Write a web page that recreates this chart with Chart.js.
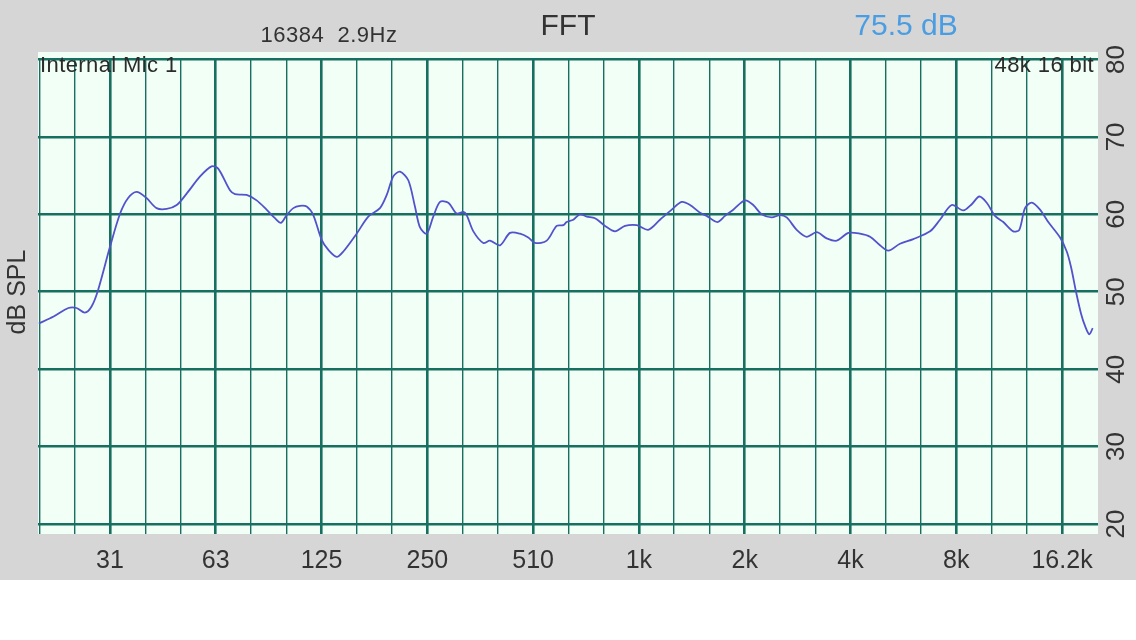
<!DOCTYPE html>
<html>
<head>
<meta charset="utf-8">
<script src="https://cdn.jsdelivr.net/npm/chart.js@4/dist/chart.umd.min.js"></script>
<style>
  html, body { margin: 0; padding: 0; background: #fff; }
  canvas { display: block; }
</style>
</head>
<body>
<canvas id="fftChart" width="1136" height="640"></canvas>
<script>
// frequency (Hz) and level (dB SPL)
var freqHz = [19.6, 21.6, 23.8, 25.1, 26.5, 27.7, 28.9, 31.25, 33.4, 35.2, 37.2, 39.7, 42.4, 45.3, 48.4, 51.7,
    56.4, 60.8, 63.5, 68.6, 70.9, 76.5, 81.7, 87.2, 92.1, 95.8, 99.5, 103.9, 108.5, 113.4, 118.4, 125.1,
    130.7, 138.1, 144.2, 157.3, 169.8, 183.3, 191.6, 200, 209, 220.7, 230.5, 238.3, 249, 259.9, 271.7,
    286.8, 303.1, 316.4, 323.5, 338, 360.8, 376.9, 402.5, 429.7, 458.8, 484.4, 506.3, 546.6, 583.4,
    609.4, 622.8, 650.6, 679.7, 710.6, 750, 801, 855, 913, 986, 1063, 1148, 1240, 1324, 1398, 1493,
    1559, 1671, 1758, 1856, 2004, 2115, 2236, 2387, 2521, 2633, 2812, 3003, 3206, 3422, 3656, 3944,
    4257, 4547, 4853, 5126, 5532, 6037, 6737, 7191, 7765, 8379, 8853, 9306, 9768, 10312, 10890, 11625,
    12091, 12553, 13116, 13850, 14619, 15794, 16500, 16969, 17534, 18113, 18634, 19131, 19560];
var splDb = [45.9, 46.8, 47.9, 47.9, 47.3, 48.1, 50.2, 55.8, 60.1, 62.1, 62.9, 62.1, 60.8, 60.7, 61.2, 62.7,
    64.9, 66.2, 65.9, 63.1, 62.6, 62.5, 61.8, 60.6, 59.5, 58.9, 59.9, 60.8, 61.1, 61.0, 59.9, 56.7,
    55.4, 54.5, 55.2, 57.5, 59.7, 60.8, 62.5, 64.9, 65.5, 64.4, 61.0, 58.3, 57.5, 59.7, 61.6,
    61.5, 60.1, 60.3, 59.9, 57.8, 56.3, 56.6, 56.0, 57.6, 57.5, 57.0, 56.3, 56.6, 58.5,
    58.6, 59.0, 59.3, 60.0, 59.7, 59.5, 58.5, 57.8, 58.5, 58.6, 58.0, 59.3, 60.6, 61.6, 61.2, 60.2,
    59.8, 59.0, 59.8, 60.6, 61.8, 61.2, 60.0, 59.6, 59.9, 59.6, 58.0, 57.1, 57.7, 56.9, 56.6, 57.6,
    57.5, 57.1, 56.0, 55.3, 56.2, 56.8, 57.8, 59.3, 61.2, 60.5, 61.3, 62.3, 61.5, 59.8, 59.0, 57.8,
    58.0, 60.8, 61.5, 60.6, 59.0, 57.0, 55.2, 53.2, 50.0, 47.2, 45.5, 44.5, 45.3];

// octave gridlines and their labels
var octaveHz = [31.25, 62.5, 125, 250, 500, 1000, 2000, 4000, 8000, 16000];
var octaveLabels = ['31', '63', '125', '250', '510', '1k', '2k', '4k', '8k', '16.2k'];
var dbTicks = [20, 30, 40, 50, 60, 70, 80];

var FONT = '"Liberation Sans", Arial, Helvetica, sans-serif';
var GRID = '#17705f';

// third-octave grid positions
var thirdHz = [];
for (var i = -2; i <= 27; i++) {
    thirdHz.push(31.25 * Math.pow(2, i / 3));
}

function octaveIndex(v) {
    for (var i = 0; i < octaveHz.length; i++) {
        if (Math.abs(v / octaveHz[i] - 1) < 0.001) return i;
    }
    return -1;
}

var points = [];
for (var i = 0; i < freqHz.length; i++) {
    points.push({x: freqHz[i], y: splDb[i]});
}

var backdrop = {
    id: 'backdrop',
    beforeDraw: function (chart) {
        var c = chart.ctx, a = chart.chartArea;
        c.save();
        c.fillStyle = '#ffffff';
        c.fillRect(0, 0, chart.width, chart.height);
        c.fillStyle = '#d6d6d6';
        c.fillRect(0, 0, chart.width, 580);
        c.fillStyle = '#f2fff7';
        c.fillRect(a.left, a.top - 6, a.right - a.left, a.bottom - a.top + 6);
        c.restore();
    }
};

var captions = {
    id: 'captions',
    afterDraw: function (chart) {
        var c = chart.ctx, a = chart.chartArea, y = chart.scales.y;
        c.save();
        c.fillStyle = '#333333';
        c.textBaseline = 'middle';
        c.textAlign = 'center';
        c.font = '22px ' + FONT;
        c.letterSpacing = '0.5px';
        c.fillText('16384  2.9Hz', 329, 36);
        c.letterSpacing = '0px';
        c.font = '30px ' + FONT;
        c.fillText('FFT', 568, 27);
        c.fillStyle = '#4a9de2';
        c.fillText('75.5 dB', 906, 27);

        c.fillStyle = '#2b2b2b';
        c.font = '22px ' + FONT;
        c.letterSpacing = '0.4px';
        c.textAlign = 'left';
        c.fillText('Internal Mic 1', a.left + 2, 66);
        c.textAlign = 'right';
        c.fillText('48k 16 bit', a.right - 4, 66);
        c.letterSpacing = '0px';

        // rotated y labels on the right
        c.fillStyle = '#333333';
        c.font = '26px ' + FONT;
        c.textAlign = 'center';
        dbTicks.forEach(function (v) {
            c.save();
            c.translate(1117, y.getPixelForValue(v));
            c.rotate(-Math.PI / 2);
            c.fillText(String(v), 0, 0);
            c.restore();
        });

        c.save();
        c.font = '25px ' + FONT;
        c.translate(18, 292);
        c.rotate(-Math.PI / 2);
        c.fillText('dB SPL', 0, 0);
        c.restore();
        c.restore();
    }
};

var ctx = document.getElementById('fftChart').getContext('2d');
new Chart(ctx, {
    type: 'line',
    data: {
        datasets: [{
            data: points,
            borderColor: '#5252cc',
            borderWidth: 1.8,
            pointRadius: 0,
            tension: 0.3,
            fill: false
        }]
    },
    options: {
        responsive: false,
        animation: false,
        devicePixelRatio: 1,
        layout: {padding: {left: 38, top: 58, right: 0, bottom: 0}},
        plugins: {legend: {display: false}, tooltip: {enabled: false}},
        scales: {
            x: {
                type: 'logarithmic',
                min: 19.5,
                max: 20250,
                afterBuildTicks: function (scale) {
                    scale.ticks = thirdHz.filter(function (v) {
                        return v >= scale.min && v <= scale.max;
                    }).map(function (v) { return {value: v}; });
                },
                afterFit: function (scale) { scale.height = 106; },
                border: {display: false},
                grid: {
                    color: GRID,
                    drawTicks: false,
                    lineWidth: function (context) {
                        if (!context.tick) return 1;
                        return octaveIndex(context.tick.value) >= 0 ? 2.6 : 1.4;
                    }
                },
                ticks: {
                    autoSkip: false,
                    maxRotation: 0,
                    padding: 12,
                    color: '#333333',
                    font: {family: FONT, size: 25},
                    callback: function (value) {
                        var k = octaveIndex(value);
                        return k >= 0 ? octaveLabels[k] : '';
                    }
                }
            },
            y: {
                position: 'right',
                min: 18.71,
                max: 80.19,
                afterBuildTicks: function (scale) {
                    scale.ticks = dbTicks.map(function (v) { return {value: v}; });
                },
                afterFit: function (scale) { scale.width = 38; },
                border: {display: false},
                grid: {color: GRID, lineWidth: 2.6, drawTicks: false},
                ticks: {display: false}
            }
        }
    },
    plugins: [backdrop, captions]
});
</script>
</body>
</html>
